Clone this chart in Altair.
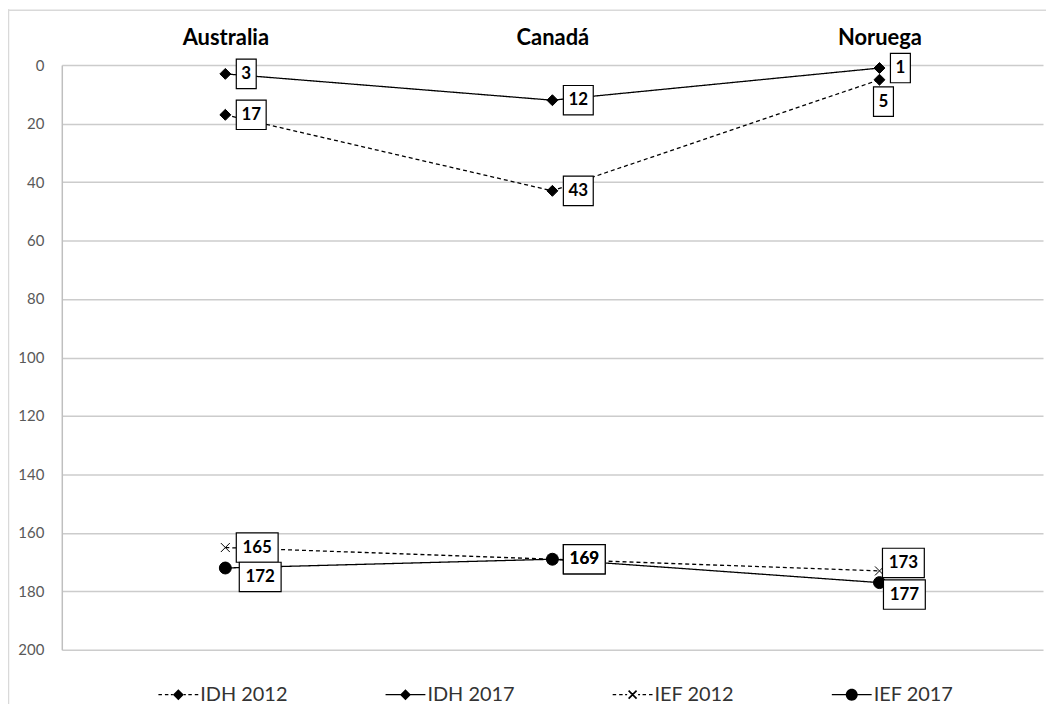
import altair as alt
import pandas as pd

# ---------------- data ----------------
paises = ["Australia", "Canadá", "Noruega"]
series = ["IDH 2012", "IDH 2017", "IEF 2012", "IEF 2017"]
idh_2012 = [17, 43, 5]
idh_2017 = [3, 12, 1]
ief_2012 = [165, 169, 173]
ief_2017 = [172, 169, 177]
y_ticks = [0, 20, 40, 60, 80, 100, 120, 140, 160, 180, 200]

valores = {"IDH 2012": idh_2012, "IDH 2017": idh_2017,
           "IEF 2012": ief_2012, "IEF 2017": ief_2017}

# ---------------- style ----------------
PLOT_W, PLOT_H = 985, 587
Y_DOMAIN = [0, 200]
PX_PER_UNIT = PLOT_H / (Y_DOMAIN[1] - Y_DOMAIN[0])
UNIT = 5.0                       # px per path unit for symbols of size 100
BOX_HALF_W = {1: 10, 2: 15, 3: 21}
BOX_HALF_H = 14.75
BOX_GAP = 11
LABEL_SHIFT = {("IDH 2012", "Noruega"): (4, 22),
               ("IEF 2012", "Noruega"): (24, -8),
               ("IEF 2017", "Noruega"): (25, 12),
               ("IEF 2017", "Australia"): (35, 9)}

rows = []
for s in series:
    for p, v in zip(paises, valores[s]):
        hw = BOX_HALF_W[len(str(v))]
        dx, dy = LABEL_SHIFT.get((s, p), (BOX_GAP + hw, 0))
        a, b = hw / UNIT, BOX_HALF_H / UNIT
        caja = f"M{-a:.2f},{-b:.2f}L{a:.2f},{-b:.2f}L{a:.2f},{b:.2f}L{-a:.2f},{b:.2f}Z"
        rows.append(dict(pais=p, serie=s, valor=v, etiqueta=str(v), dx=dx,
                         ylab=v + dy / PX_PER_UNIT, caja=caja))
df = pd.DataFrame(rows)


def seg(x0, x1, h=0.13):
    return f"M{x0},{-h}L{x1},{-h}L{x1},{h}L{x0},{h}Z"


def xshape(r, w=0.12):
    return (f"M{-r - w},{-r + w}L{-r + w},{-r - w}L{r + w},{r - w}L{r - w},{r + w}Z"
            f"M{r - w},{-r - w}L{r + w},{-r + w}L{-r + w},{r + w}L{-r - w},{r - w}Z")


diamond = "M0,-1.1L1.1,0L0,1.1L-1.1,0Z"
xmark = "M-0.9,-0.9L0.9,0.9M0.9,-0.9L-0.9,0.9"
circle = "M1.2,0A1.2,1.2 0 1,1 -1.2,0A1.2,1.2 0 1,1 1.2,0Z"
marker_paths = [diamond, diamond, xmark, circle]

dashes = (seg(-4, -3.3) + seg(-2.7, -2.0) + seg(-1.5, -1.1)
          + seg(1.1, 1.5) + seg(2.0, 2.7) + seg(3.3, 4))
solid = seg(-4, 4)
legend_paths = [dashes + diamond, solid + diamond, dashes + xshape(0.8), solid + circle]

FONT = "Lato"

x_enc = alt.X("pais:N", sort=paises,
              scale=alt.Scale(type="point", padding=0.5, domain=paises),
              axis=alt.Axis(orient="top", title=None, domain=False, ticks=False, grid=False,
                            labelFont=FONT, labelFontSize=22, labelFontWeight="bold",
                            labelColor="black", labelPadding=16, labelAngle=0))
y_scale = alt.Scale(domain=Y_DOMAIN, reverse=True, nice=False, zero=False)
y_axis = alt.Axis(values=y_ticks, title=None, ticks=False,
                  domainColor="#bfbfbf", domainWidth=1.5,
                  gridColor="#cccccc", gridWidth=1.5,
                  labelFont=FONT, labelFontSize=15, labelColor="#595959",
                  labelPadding=18)
y_enc = alt.Y("valor:Q", scale=y_scale, axis=y_axis)
y_lab = alt.Y("ylab:Q", scale=y_scale, axis=y_axis)

base = alt.Chart(df)

lines = base.mark_line(color="black", strokeWidth=1.3).encode(
    x=x_enc, y=y_enc, detail="serie:N",
    strokeDash=alt.StrokeDash("serie:N",
                              scale=alt.Scale(domain=series, range=[[4, 3], [1, 0], [4, 3], [1, 0]]),
                              legend=None))

markers = base.mark_point(filled=True, fill="black", stroke="black", strokeWidth=1,
                          size=100, opacity=1).encode(
    x=x_enc, y=y_enc,
    shape=alt.Shape("serie:N", scale=alt.Scale(domain=series, range=marker_paths), legend=None))

boxes = base.mark_point(filled=True, fill="white", stroke="black", strokeWidth=1.2,
                        size=100, opacity=1).encode(
    x=x_enc, y=y_lab,
    shape=alt.Shape("caja:N", scale=None),
    xOffset=alt.XOffset("dx:Q", scale=None))

texts = base.mark_text(font=FONT, fontSize=17, fontWeight="bold", color="black",
                       baseline="middle", align="center").encode(
    x=x_enc, y=y_lab, text="etiqueta:N",
    xOffset=alt.XOffset("dx:Q", scale=None))

legend_layer = base.transform_filter("false").mark_point(
    filled=True, fill="black", stroke="black", strokeWidth=1, size=100, opacity=1).encode(
    shape=alt.Shape("serie:N", scale=alt.Scale(domain=series, range=legend_paths),
                    legend=alt.Legend(title=None, orient="none", legendX=107, legendY=622,
                                      direction="horizontal", symbolSize=100,
                                      symbolFillColor="black", symbolStrokeColor="black",
                                      symbolOpacity=1,
                                      labelFont=FONT, labelFontSize=20, labelColor="#333333",
                                      labelOffset=12, columnPadding=95)))

frame_data = alt.Data(values=[{"k": 0}])
frame_top = alt.Chart(frame_data).mark_rule(color="#d9d9d9", strokeWidth=1.5).encode(
    x=alt.value(-54), x2=alt.value(990), y=alt.value(-55))
frame_left = alt.Chart(frame_data).mark_rule(color="#d9d9d9", strokeWidth=1.5).encode(
    x=alt.value(-53.5), y=alt.value(-56), y2=alt.value(645))

chart = alt.layer(frame_top, frame_left, lines, markers, boxes, texts, legend_layer).resolve_scale(
    shape="independent"
).properties(
    width=PLOT_W, height=PLOT_H,
    autosize=alt.AutoSizeParams(type="none"),
    padding={"left": 54, "top": 56, "right": 3, "bottom": 53},
).configure_view(stroke=None)

chart.save("out.html", embed_options={"renderer": "svg", "actions": False})
